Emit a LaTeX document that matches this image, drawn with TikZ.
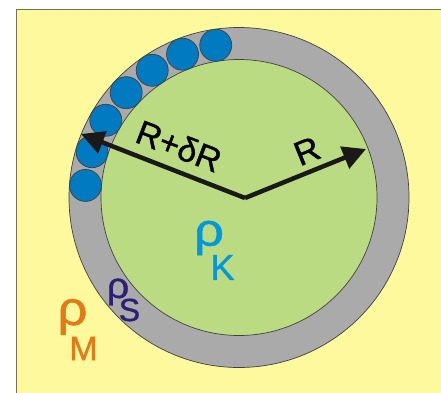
\documentclass[tikz,border=0pt]{standalone}
\usepackage{fontspec}
\setmainfont[FakeBold=1]{Liberation Sans}
\usetikzlibrary{arrows.meta,calc}
\definecolor{bgyellow}{RGB}{255,249,158}
\definecolor{framec}{RGB}{120,112,80}
\definecolor{shellgray}{RGB}{170,170,170}
\definecolor{coregreen}{RGB}{186,219,130}
\definecolor{ballblue}{RGB}{0,122,192}
\definecolor{kblue}{RGB}{0,152,218}
\definecolor{snavy}{RGB}{45,30,120}
\definecolor{morange}{RGB}{226,122,22}
\tikzset{
  outline/.style={draw=black!75, line width=0.7pt},
  ball/.style={outline, fill=ballblue},
  radarrow/.style={line width=4.5pt, -{Triangle[length=23pt,width=23pt]}, black!90},
  lbl/.style={inner sep=0pt, font=\fontsize{34}{34}\selectfont}
}
\begin{document}
\begin{tikzpicture}[x=1pt,y=-1pt]
\useasboundingbox (0,0) rectangle (441,392);
\fill[white] (0,0) rectangle (441,392);
\fill[bgyellow] (16,9) rectangle (442,393);
\draw[framec, line width=1pt] (16,393) -- (16,9) -- (442,9);
\coordinate (c) at (239,197.5);
\coordinate (o) at (245,198);
\fill[shellgray, outline] (c) circle[radius=170pt];
\fill[coregreen, outline] (c) circle[radius=138pt];
\foreach \i in {0,...,6}{
  \pgfmathsetmacro{\ang}{98.7+12.8*\i}
  \draw[ball] ($(c)+(\ang:154pt)$) circle[radius=16pt];
}
\coordinate (tipR) at (366,149);
\coordinate (tipRd) at (81,134);
\draw[radarrow] (o) -- (tipR);
\draw[radarrow] (o) -- (tipRd);
\node[lbl, rotate=-21] (lRd) at (179,146) {R+δR};
\node[lbl, rotate=22] (lR) at (307,151) {R};
\node[lbl, text=kblue, font=\fontsize{46}{46}\selectfont, xscale=1.15] (rk) at (209,238) {ρ};
\node[lbl, text=kblue, font=\fontsize{36}{36}\selectfont] (sk) at (222.5,267.5) {K};
\node[lbl, text=snavy, font=\fontsize{36}{36}\selectfont, xscale=1.1] (rs) at (118,292) {ρ};
\node[lbl, text=snavy, font=\fontsize{32}{32}\selectfont] (ss) at (129.5,310) {S};
\node[lbl, text=morange, font=\fontsize{48}{48}\selectfont, xscale=1.1] (rm) at (72.5,317) {ρ};
\node[lbl, text=morange, font=\fontsize{34}{34}\selectfont] (sm) at (83.5,348.5) {M};
\end{tikzpicture}
\end{document}
